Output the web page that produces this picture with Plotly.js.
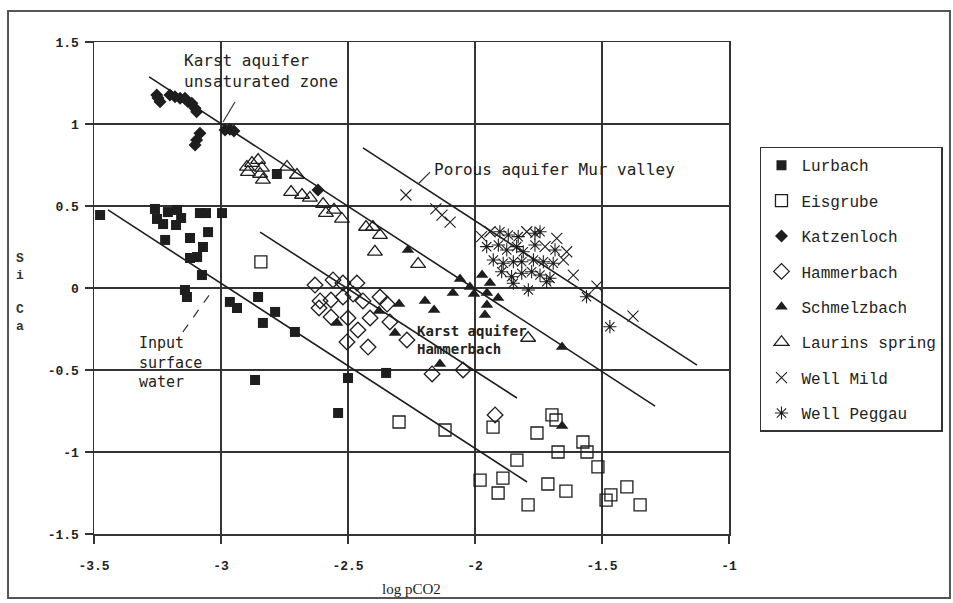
<!DOCTYPE html>
<html><head><meta charset="utf-8">
<script src="https://cdn.plot.ly/plotly-3.0.1.min.js"></script>
<style>html,body{margin:0;padding:0;background:#fff}#chart{width:953px;height:603px}</style>
</head><body><div id="chart"></div>
<script>
// ---- data (log pCO2 vs SI calcite) ----
const lurbachX = [-3.476,-3.260,-3.252,-3.228,-3.209,-3.173,-3.157,-3.177,-3.083,-3.059,-2.996,-3.051,-3.122,-3.220,-3.071,-3.122,-3.094,-3.075,-3.134,-3.142,-2.965,-2.937,-2.854,-2.787,-2.835,-2.709,-2.866,-2.539,-2.500,-2.350,-2.780];
const lurbachY = [0.445,0.482,0.421,0.390,0.463,0.476,0.427,0.384,0.457,0.457,0.457,0.341,0.305,0.293,0.250,0.183,0.189,0.079,-0.055,-0.012,-0.085,-0.122,-0.055,-0.146,-0.213,-0.268,-0.561,-0.762,-0.549,-0.518,0.695];

const eisgrubeX = [-2.843,-2.299,-2.118,-1.929,-1.697,-1.681,-1.756,-1.575,-1.559,-1.673,-1.835,-1.516,-1.980,-1.890,-1.713,-1.642,-1.909,-1.791,-1.484,-1.465,-1.402,-1.350];
const eisgrubeY = [0.159,-0.817,-0.866,-0.848,-0.774,-0.805,-0.884,-0.939,-1.000,-1.000,-1.049,-1.091,-1.171,-1.159,-1.195,-1.238,-1.250,-1.323,-1.293,-1.262,-1.213,-1.323];

const katzenlochX = [-3.253,-3.240,-3.248,-3.201,-3.181,-3.161,-3.142,-3.130,-3.115,-3.102,-3.096,-3.083,-3.096,-3.102,-2.984,-2.965,-2.949,-2.618];
const katzenlochY = [1.177,1.136,1.159,1.177,1.166,1.157,1.157,1.136,1.126,1.096,1.075,0.943,0.902,0.872,0.963,0.968,0.957,0.598];

const hammerbachX = [-2.630,-2.559,-2.520,-2.465,-2.610,-2.567,-2.520,-2.480,-2.441,-2.374,-2.346,-2.614,-2.567,-2.500,-2.461,-2.504,-2.421,-2.413,-2.335,-2.268,-2.169,-2.047,-1.921];
const hammerbachY = [0.018,0.049,0.030,0.030,-0.079,-0.073,-0.055,-0.037,-0.079,-0.055,-0.098,-0.122,-0.177,-0.183,-0.256,-0.329,-0.360,-0.183,-0.207,-0.317,-0.524,-0.500,-0.774];

const schmelzbachX = [-2.264,-2.059,-1.972,-1.941,-2.087,-2.020,-2.004,-1.953,-1.909,-1.953,-1.961,-2.197,-2.161,-2.299,-2.378,-2.543,-2.315,-2.138,-1.657,-1.657];
const schmelzbachY = [0.232,0.055,0.079,0.030,-0.030,0.006,-0.037,-0.030,-0.061,-0.104,-0.165,-0.079,-0.134,-0.098,-0.140,-0.213,-0.274,-0.463,-0.360,-0.841];

const laurinsX = [-2.898,-2.878,-2.854,-2.839,-2.894,-2.846,-2.835,-2.740,-2.701,-2.724,-2.681,-2.650,-2.598,-2.587,-2.555,-2.524,-2.429,-2.402,-2.374,-2.394,-2.224,-1.791];
const laurinsY = [0.738,0.762,0.780,0.732,0.707,0.695,0.659,0.738,0.689,0.585,0.567,0.549,0.512,0.457,0.476,0.421,0.372,0.372,0.323,0.220,0.146,-0.305];

const wellMildX = [-2.272,-2.154,-2.130,-2.098,-1.520,-1.378,-1.941,-1.796,-1.678,-1.724,-1.639,-1.652,-1.613,-1.974];
const wellMildY = [0.567,0.482,0.445,0.402,0.012,-0.171,0.343,0.343,0.303,0.252,0.221,0.171,0.079,0.313];

const wellPeggauX = [-1.561,-1.469,-1.902,-1.869,-1.830,-1.764,-1.744,-1.954,-1.908,-1.875,-1.836,-1.810,-1.764,-1.685,-1.928,-1.889,-1.849,-1.816,-1.770,-1.731,-1.692,-1.895,-1.856,-1.816,-1.777,-1.744,-1.705,-1.849,-1.790,-1.718];
const wellPeggauY = [-0.053,-0.236,0.343,0.323,0.313,0.334,0.343,0.252,0.262,0.232,0.252,0.221,0.262,0.232,0.171,0.151,0.160,0.160,0.171,0.160,0.151,0.099,0.069,0.090,0.099,0.079,0.059,0.029,-0.012,0.038];

// trend lines (endpoints)
const lineUnsatX = [-3.283,-1.291], lineUnsatY = [1.287,-0.720];
const linePorousX = [-2.441,-1.126], linePorousY = [0.854,-0.470];
const lineHammerX = [-2.846,-1.835], lineHammerY = [0.341,-0.671];
const lineSurfaceX = [-3.445,-1.795], lineSurfaceY = [0.476,-1.183];

const xTickVals = [-3.5,-3,-2.5,-2,-1.5,-1];
const xTickText = ['-3.5','-3','-2.5','-2','-1.5','-1'];
const yTickVals = [-1.5,-1,-0.5,0,0.5,1,1.5];
const yTickText = ['-1.5','-1','-0.5','0','0.5','1','1.5'];

const INK = '#1e1e1e';
function pts(name, x, y, symbol, size, lw){
  return {type:'scatter', mode:'markers', name:name, x:x, y:y, legendgroup:name,
    marker:{symbol:symbol, size:size, color:INK, line:{color:INK, width:lw}}};
}
function ln(x, y){
  return {type:'scatter', mode:'lines', x:x, y:y, showlegend:false, hoverinfo:'skip',
    line:{color:INK, width:1.6}};
}
const traces = [
  ln(lineUnsatX, lineUnsatY), ln(linePorousX, linePorousY), ln(lineHammerX, lineHammerY), ln(lineSurfaceX, lineSurfaceY),
  pts('Lurbach', lurbachX, lurbachY, 'square', 10, 0),
  pts('Eisgrube', eisgrubeX, eisgrubeY, 'square-open', 12, 1.3),
  pts('Katzenloch', katzenlochX, katzenlochY, 'diamond', 10, 0),
  pts('Hammerbach', hammerbachX, hammerbachY, 'diamond-open', 12, 1.3),
  pts('Schmelzbach', schmelzbachX, schmelzbachY, 'triangle-up', 11, 0),
  pts('Laurins spring', laurinsX, laurinsY, 'triangle-up-open', 13, 1.3),
  pts('Well Mild', wellMildX, wellMildY, 'x-thin-open', 11, 1.1),
  pts('Well Peggau', wellPeggauX, wellPeggauY, 'asterisk-open', 11, 1.1)
];

const annFont = {family:'DejaVu Sans Mono', size:15, color:'#222'};
const layout = {
  width:953, height:603,
  margin:{l:94, r:224, t:42, b:69, autoexpand:false},
  paper_bgcolor:'#fff', plot_bgcolor:'#fff',
  showlegend:true,
  xaxis:{range:[-3.5,-1], tickvals:xTickVals, ticktext:xTickText, showgrid:true, gridcolor:'#333', gridwidth:1.4,
    zeroline:false, showline:true, mirror:true, linecolor:'#333', linewidth:1.5,
    ticks:'outside', ticklen:8, tickcolor:'#333', tickwidth:1.4, ticklabelstandoff:11,
    tickfont:{family:'Liberation Mono', size:13, color:'#222', weight:'bold'},
    title:{text:'log pCO2', font:{family:'Liberation Serif', size:15, color:'#222'}, standoff:10}},
  yaxis:{range:[-1.5,1.5], tickvals:yTickVals, ticktext:yTickText, showgrid:true, gridcolor:'#333', gridwidth:1.4,
    zeroline:false, showline:true, mirror:true, linecolor:'#333', linewidth:1.5,
    ticks:'outside', ticklen:8, tickcolor:'#333', tickwidth:1.4, ticklabelstandoff:3,
    tickfont:{family:'Liberation Mono', size:13, color:'#222', weight:'bold'}},
  legend:{x:1.0488, y:0.787, xanchor:'left', yanchor:'top', bgcolor:'#fff', bordercolor:'#333', borderwidth:1.5,
    font:{family:'Liberation Mono', size:16, color:'#222'}, tracegroupgap:11.6, traceorder:'grouped', itemsizing:'trace'},
  annotations:[
    {xref:'x', yref:'y', x:-3.154, y:1.323, xanchor:'left', yanchor:'middle', align:'left', showarrow:false,
     text:'Karst aquifer<br>unsaturated zone', font:{family:'DejaVu Sans Mono', size:16, color:'#222'}},
    {xref:'x', yref:'y', x:-2.169, y:0.72, xanchor:'left', yanchor:'middle', align:'left', showarrow:false,
     text:'Porous aquifer Mur valley', font:{family:'DejaVu Sans Mono', size:16, color:'#222'}},
    {xref:'x', yref:'y', x:-3.331, y:-0.457, xanchor:'left', yanchor:'middle', align:'left', showarrow:false,
     text:'Input<br>surface<br>water', font:annFont},
    {xref:'x', yref:'y', x:-2.236, y:-0.314, xanchor:'left', yanchor:'middle', align:'left', showarrow:false,
     text:'Karst aquifer<br>Hammerbach', font:{family:'DejaVu Sans Mono', size:14, color:'#222', weight:'bold'}},
    {xref:'paper', yref:'paper', x:-0.1165, y:0.49, xanchor:'center', yanchor:'middle', showarrow:false,
     text:'S<br>i<br><br>C<br>a', font:{family:'Liberation Mono', size:13, color:'#333', weight:'bold'}}
  ],
  shapes:[
    {type:'rect', xref:'paper', yref:'paper', x0:-0.1354, x1:1.348, y0:-0.130, y1:1.063, line:{color:'#555', width:2}},
    {type:'line', xref:'x', yref:'y', x0:-2.945, y0:1.134, x1:-2.992, y1:1.012, line:{color:'#333', width:1.2}},
    {type:'line', xref:'x', yref:'y', x0:-2.177, y0:0.707, x1:-2.224, y1:0.634, line:{color:'#333', width:1.2}},
    {type:'line', xref:'x', yref:'y', x0:-3.150, y0:-0.268, x1:-3.024, y1:0.006, line:{color:'#333', width:1.2, dash:'dash'}}
  ]
};
Plotly.newPlot('chart', traces, layout, {displayModeBar:false, staticPlot:true});
</script></body></html>
